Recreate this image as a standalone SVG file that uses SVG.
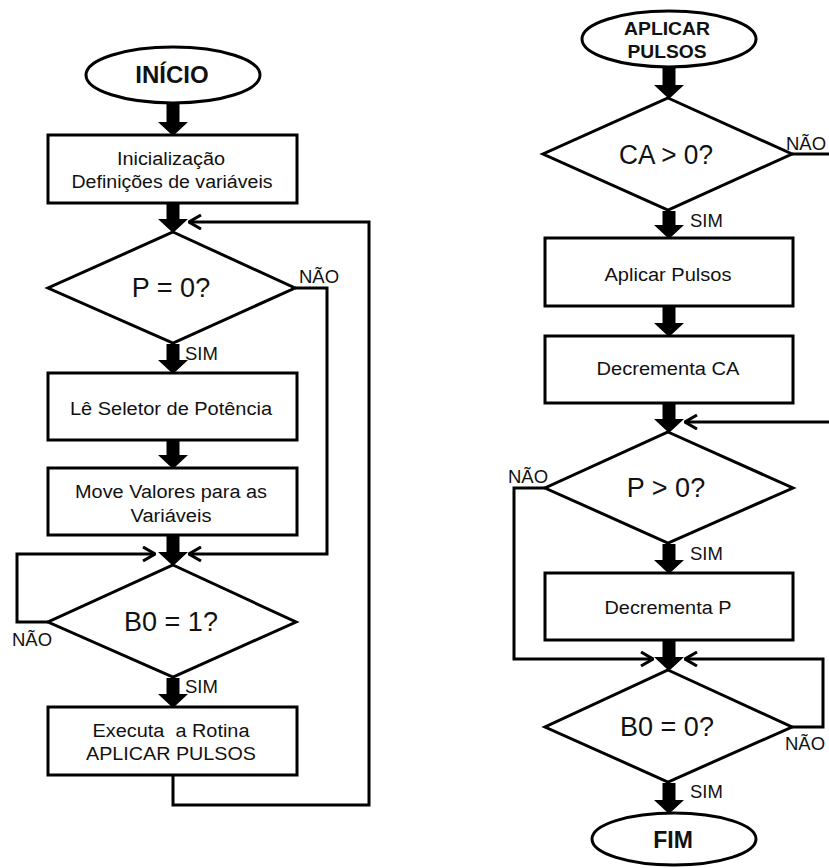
<svg xmlns="http://www.w3.org/2000/svg" width="829" height="868" viewBox="0 0 829 868">
<style>
.shape{fill:#fff;stroke:#000;stroke-width:3}
.t{font-family:"Liberation Sans",Arial,sans-serif;fill:#111;text-anchor:middle}
.box{font-size:18px}
.dec{font-size:27px}
.lbl{font-size:18.5px;text-anchor:start}
.term{font-weight:bold}
.thick{stroke:#000;stroke-width:13;fill:none}
.thin{stroke:#000;stroke-width:3;fill:none;stroke-linejoin:miter}
</style>
<defs>
<marker id="head" viewBox="0 0 14 30" refX="0" refY="15" markerWidth="14" markerHeight="30" markerUnits="userSpaceOnUse" orient="auto">
<path d="M0,0 L14,15 L0,30 Z" fill="#000"/>
</marker>
<marker id="chev" viewBox="0 0 14 16" refX="13" refY="8" markerWidth="14" markerHeight="16" markerUnits="userSpaceOnUse" orient="auto">
<path d="M1,1 L13,8 L1,15" fill="none" stroke="#000" stroke-width="3"/>
</marker>
</defs>

<g id="connectors">
<line class="thick" x1="173" y1="103" x2="173" y2="122" marker-end="url(#head)"/>
<line class="thick" x1="173" y1="204" x2="173" y2="219" marker-end="url(#head)"/>
<line class="thick" x1="173" y1="344" x2="173" y2="360" marker-end="url(#head)"/>
<line class="thick" x1="173" y1="441" x2="173" y2="455" marker-end="url(#head)"/>
<line class="thick" x1="173" y1="536" x2="173" y2="552" marker-end="url(#head)"/>
<line class="thick" x1="173" y1="678" x2="173" y2="694" marker-end="url(#head)"/>
<polyline class="thin" points="295,288 327,288 327,554 189,554" marker-end="url(#chev)"/>
<polyline class="thin" points="48,622 17,622 17,554 155,554" marker-end="url(#chev)"/>
<polyline class="thin" points="173,775 173,805 369,805 369,222 189,222" marker-end="url(#chev)"/>

<line class="thick" x1="669" y1="68" x2="669" y2="85" marker-end="url(#head)"/>
<line class="thick" x1="669" y1="211" x2="669" y2="225" marker-end="url(#head)"/>
<line class="thick" x1="669" y1="307" x2="669" y2="323" marker-end="url(#head)"/>
<line class="thick" x1="669" y1="404" x2="669" y2="419" marker-end="url(#head)"/>
<line class="thick" x1="669" y1="544" x2="669" y2="560" marker-end="url(#head)"/>
<line class="thick" x1="669" y1="641" x2="669" y2="657" marker-end="url(#head)"/>
<line class="thick" x1="669" y1="783" x2="669" y2="800" marker-end="url(#head)"/>
<line class="thin" x1="792" y1="154" x2="829" y2="154"/>
<polyline class="thin" points="832,422 685,422" marker-end="url(#chev)"/>
<polyline class="thin" points="545,488 514,488 514,659 653,659" marker-end="url(#chev)"/>
<polyline class="thin" points="792,727 823,727 823,659 685,659" marker-end="url(#chev)"/>
</g>

<g id="inicio">
<ellipse class="shape" cx="173" cy="75" rx="87" ry="28"/>
<text class="t term" x="172" y="83" font-size="24">INÍCIO</text>
</g>
<g id="inicializacao">
<rect class="shape" x="48" y="135" width="249" height="68"/>
<text class="t box" x="171" y="165" textLength="108" lengthAdjust="spacingAndGlyphs">Inicialização</text>
<text class="t box" x="172" y="188" textLength="201" lengthAdjust="spacingAndGlyphs">Definições de variáveis</text>
</g>
<g id="dec-p0">
<polygon class="shape" points="173,232 295,288 173,343 48,288"/>
<text class="t dec" x="171" y="297">P = 0?</text>
</g>
<g id="le-seletor">
<rect class="shape" x="48" y="373" width="249" height="67"/>
<text class="t box" x="171" y="415" textLength="202" lengthAdjust="spacingAndGlyphs">Lê Seletor de Potência</text>
</g>
<g id="move-valores">
<rect class="shape" x="48" y="468" width="249" height="67"/>
<text class="t box" x="171" y="498" textLength="192" lengthAdjust="spacingAndGlyphs">Move Valores para as</text>
<text class="t box" x="171" y="522" textLength="81" lengthAdjust="spacingAndGlyphs">Variáveis</text>
</g>
<g id="dec-b01">
<polygon class="shape" points="173,565 296,622 173,677 48,622"/>
<text class="t dec" x="171" y="631">B0 = 1?</text>
</g>
<g id="executa">
<rect class="shape" x="48" y="707" width="249" height="68"/>
<text class="t box" x="171" y="737" textLength="157" lengthAdjust="spacingAndGlyphs">Executa&#160; a Rotina</text>
<text class="t box" x="171" y="760" textLength="170" lengthAdjust="spacingAndGlyphs">APLICAR PULSOS</text>
</g>

<g id="aplicar-pulsos-start">
<ellipse class="shape" cx="669" cy="39" rx="87" ry="28"/>
<text class="t term" x="667" y="35" font-size="18" textLength="86" lengthAdjust="spacingAndGlyphs">APLICAR</text>
<text class="t term" x="667" y="58" font-size="18" textLength="79" lengthAdjust="spacingAndGlyphs">PULSOS</text>
</g>
<g id="dec-ca">
<polygon class="shape" points="668,98 792,154 668,210 543,154"/>
<text class="t dec" x="666" y="164" textLength="94" lengthAdjust="spacingAndGlyphs">CA &gt; 0?</text>
</g>
<g id="aplicar-pulsos">
<rect class="shape" x="545" y="238" width="248" height="68"/>
<text class="t box" x="668" y="281" textLength="127" lengthAdjust="spacingAndGlyphs">Aplicar Pulsos</text>
</g>
<g id="decrementa-ca">
<rect class="shape" x="545" y="336" width="248" height="67"/>
<text class="t box" x="668" y="375" textLength="143" lengthAdjust="spacingAndGlyphs">Decrementa CA</text>
</g>
<g id="dec-p">
<polygon class="shape" points="668,432 793,488 668,543 545,488"/>
<text class="t dec" x="666" y="497">P &gt; 0?</text>
</g>
<g id="decrementa-p">
<rect class="shape" x="545" y="573" width="248" height="67"/>
<text class="t box" x="668" y="614" textLength="127" lengthAdjust="spacingAndGlyphs">Decrementa P</text>
</g>
<g id="dec-b00">
<polygon class="shape" points="668,670 792,727 668,782 545,727"/>
<text class="t dec" x="667" y="736">B0 = 0?</text>
</g>
<g id="fim">
<ellipse class="shape" cx="674" cy="839" rx="82" ry="26"/>
<text class="t term" x="673" y="848" font-size="23">FIM</text>
</g>

<g id="labels">
<text class="t lbl" x="185" y="360">SIM</text>
<text class="t lbl" x="299" y="283">NÃO</text>
<text class="t lbl" x="12" y="646">NÃO</text>
<text class="t lbl" x="185" y="693">SIM</text>
<text class="t lbl" x="786" y="150">NÃO</text>
<text class="t lbl" x="690" y="227">SIM</text>
<text class="t lbl" x="508" y="483">NÃO</text>
<text class="t lbl" x="690" y="560">SIM</text>
<text class="t lbl" x="785" y="750">NÃO</text>
<text class="t lbl" x="690" y="798">SIM</text>
</g>
</svg>
